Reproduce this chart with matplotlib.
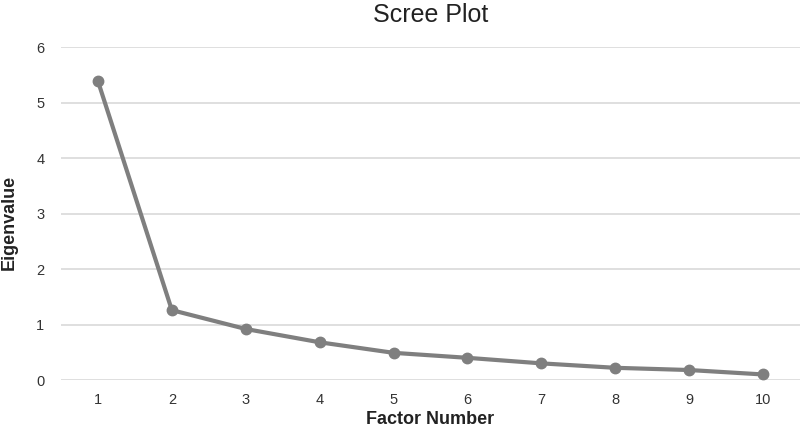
import matplotlib
matplotlib.use("Agg")
import matplotlib.pyplot as plt

factors = [1, 2, 3, 4, 5, 6, 7, 8, 9, 10]
eigenvalues = [5.39, 1.26, 0.92, 0.68, 0.49, 0.40, 0.30, 0.22, 0.18, 0.10]
yticks = [0, 1, 2, 3, 4, 5, 6]

plt.rcParams['font.family'] = ['Liberation Sans', 'DejaVu Sans']

fig = plt.figure(figsize=(8.0, 4.29), dpi=100)
ax = fig.add_axes([61/800, 1-380/429, 739/800, (380-47.3)/429])

ax.plot(factors, eigenvalues, color='#7f7f7f', linewidth=3, marker='o',
        markersize=7.5, solid_capstyle='round', zorder=3)

ax.set_xlim(0.5, 10.5)
ax.set_ylim(0, 6)
ax.set_xticks(factors)
ax.set_yticks(yticks)
ax.grid(axis='y', color='#d9d9d9', linewidth=1.2)
ax.set_axisbelow(True)
for s in ax.spines.values():
    s.set_visible(False)
ax.tick_params(axis='both', length=0, labelsize=10.5, colors='#333333')
ax.tick_params(axis='x', pad=9)
ax.tick_params(axis='y', pad=12)

ax.set_title('Scree Plot', fontsize=18, color='#222222', pad=18)
ax.set_xlabel('Factor Number', fontsize=13, fontweight='bold', color='#222222', labelpad=3)
ax.set_ylabel('Eigenvalue', fontsize=13, fontweight='bold', color='#222222')
ax.yaxis.set_label_coords(-0.059, 0.475)

fig.savefig('out.png', dpi=100)
